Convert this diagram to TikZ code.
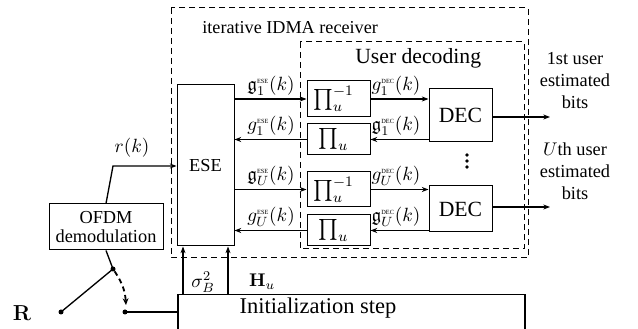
\documentclass[tikz,border=0pt]{standalone}
\usepackage{fix-cm}
\usepackage{amssymb}
\usepackage{fontspec}
\setmainfont{Liberation Serif}
\usetikzlibrary{arrows.meta}
\newcommand\supESE{\mbox{\fontsize{3.8}{4}\selectfont ESE}}
\newcommand\supDEC{\mbox{\fontsize{3.8}{4}\selectfont DEC}}
\newcommand\cmbf[1]{\mbox{\usefont{OT1}{cmr}{bx}{n}#1}}
\tikzset{
  blk/.style={draw, line width=0.6pt, inner sep=0pt, align=center, font=\fontsize{11}{12}\selectfont},
  arr/.style={-{Stealth[length=4pt,width=3pt]}, line width=0.8pt},
  lbl/.style={font=\fontsize{11.5}{12}\selectfont, inner sep=0pt},
  txt/.style={inner sep=0pt, align=center, font=\fontsize{11}{13.2}\selectfont},
  dbox/.style={line width=0.6pt, dash pattern=on 3.5pt off 2.5pt},
  swdot/.style={circle, fill, inner sep=0pt, minimum size=3pt},
  vdot/.style={circle, fill, inner sep=0pt, minimum size=2.3pt}
}
\begin{document}
\begin{tikzpicture}[x=0.6pt,y=-0.6pt]
\clip (0,0) rectangle (638,329);
% dashed frames
\draw[dbox] (171,8) rectangle (528,258);
\draw[dbox] (300,42) rectangle (524,249);
\node[anchor=west, inner sep=0pt, font=\fontsize{10.9}{12}\selectfont] (tIDMA) at (202,28) {iterative IDMA receiver};
\node[anchor=west, inner sep=0pt, font=\fontsize{13}{14}\selectfont] (tUD) at (355,58) {User decoding};
% blocks
\node[blk, minimum width=34.2pt, minimum height=96.6pt] (ese) at (205.5,165.5) {ESE};
\node[blk, minimum width=37.8pt, minimum height=21.6pt, font=\fontsize{12.5}{13}\selectfont] (p1i) at (338.5,99) {$\prod_u^{-1}$\hspace{6pt}};
\node[blk, minimum width=37.8pt, minimum height=18.6pt, font=\fontsize{12.5}{13}\selectfont] (p1) at (338.5,139.5) {$\prod_u$\hspace{6pt}};
\node[blk, minimum width=37.8pt, minimum height=21pt, font=\fontsize{12.5}{13}\selectfont] (p2i) at (338.5,189.5) {$\prod_u^{-1}$\hspace{6pt}};
\node[blk, minimum width=37.8pt, minimum height=18.6pt, font=\fontsize{12.5}{13}\selectfont] (p2) at (338.5,230.5) {$\prod_u$\hspace{6pt}};
\node[blk, minimum width=37.8pt, minimum height=31.8pt, font=\fontsize{13}{14}\selectfont] (dec1) at (460.5,115.5) {DEC};
\node[blk, minimum width=37.8pt, minimum height=27.6pt, font=\fontsize{13}{14}\selectfont] (dec2) at (460.5,209) {DEC};
\node[blk, minimum width=68.4pt, minimum height=27.6pt] (ofdm) at (106,227) {OFDM\\[-1pt]demodulation};
\node[draw, line width=0.9pt, anchor=north west, minimum width=208.2pt, minimum height=30pt, inner sep=0pt] (init) at (177,294) {};
\node[inner sep=0pt, font=\fontsize{13.5}{14}\selectfont] (initlbl) at (318,308) {Initialization step};
% row 1
\draw[arr] (ese.east |- p1i) -- (p1i.west);
\draw[arr] (p1i.east) -- (p1i.east -| dec1.west);
\draw[arr] (dec1.west |- p1) -- (p1.east);
\draw[arr] (p1.west) -- (p1.west -| ese.east);
% row 2
\draw[arr] (ese.east |- p2i) -- (p2i.west);
\draw[arr] (p2i.east) -- (p2i.east -| dec2.west);
\draw[arr] (dec2.west |- p2) -- (p2.east);
\draw[arr] (p2.west) -- (p2.west -| ese.east);
% labels
\node[lbl] (l1) at (271,86) {$\mathfrak{g}_1^{\supESE}(k)$};
\node[lbl] (l2) at (396,86) {$g_1^{\supDEC}(k)$};
\node[lbl] (l3) at (271,126) {$g_1^{\supESE}(k)$};
\node[lbl] (l4) at (396,126) {$\mathfrak{g}_1^{\supDEC}(k)$};
\node[lbl] (l5) at (271,176) {$\mathfrak{g}_U^{\supESE}(k)$};
\node[lbl] (l6) at (396,176) {$g_U^{\supDEC}(k)$};
\node[lbl] (l7) at (271,217) {$g_U^{\supESE}(k)$};
\node[lbl] (l8) at (396,217) {$\mathfrak{g}_U^{\supDEC}(k)$};
% outputs
\coordinate (o1) at (550,117);
\coordinate (o2) at (550,207);
\draw[arr] (dec1.east |- o1) -- (o1);
\draw[arr] (dec2.east |- o2) -- (o2);
\node[txt] (u1) at (575,81) {1st user\\estimated\\bits};
\node[txt] (u2) at (575,171) {$U$th user\\estimated\\bits};
\node[vdot] (d1) at (467,155) {};
\node[vdot] (d2) at (467,161) {};
\node[vdot] (d3) at (467,167) {};
% r(k)
\coordinate (rk) at (113,166);
\draw[arr] (ofdm.north) -- (rk) -- (rk -| ese.west);
\node[lbl] (lrk) at (132,148) {$r(k)$};
% switch
\node[swdot] (s0) at (113,269) {};
\node[swdot] (sR) at (61,312) {};
\node[swdot] (s1) at (125,312) {};
\coordinate (sw) at (126,305);
\draw[line width=0.8pt] (ofdm.south) -- (s0.center);
\draw[line width=0.8pt] (s0.center) -- (sR.center);
\draw[line width=0.8pt] (s1.center) -- (s1 -| init.west);
\draw[-{Stealth[length=4pt,width=3.5pt]}, line width=1.1pt, dash pattern=on 3pt off 2.2pt] (s0) to[bend left=15] (sw);
\node[inner sep=0pt, font=\fontsize{13}{14}\selectfont] (lR) at (22,313) {\cmbf{R}};
% init -> ESE
\coordinate (sx) at (183,0);
\coordinate (hx) at (228,0);
\draw[arr] (init.north -| sx) -- (ese.south -| sx);
\draw[arr] (init.north -| hx) -- (ese.south -| hx);
\node[lbl] (lsig) at (203,282) {$\sigma_B^2$};
\node[lbl, font=\fontsize{11}{12}\selectfont] (lH) at (262,282) {$\cmbf{H}_u$};
\end{tikzpicture}
\end{document}
